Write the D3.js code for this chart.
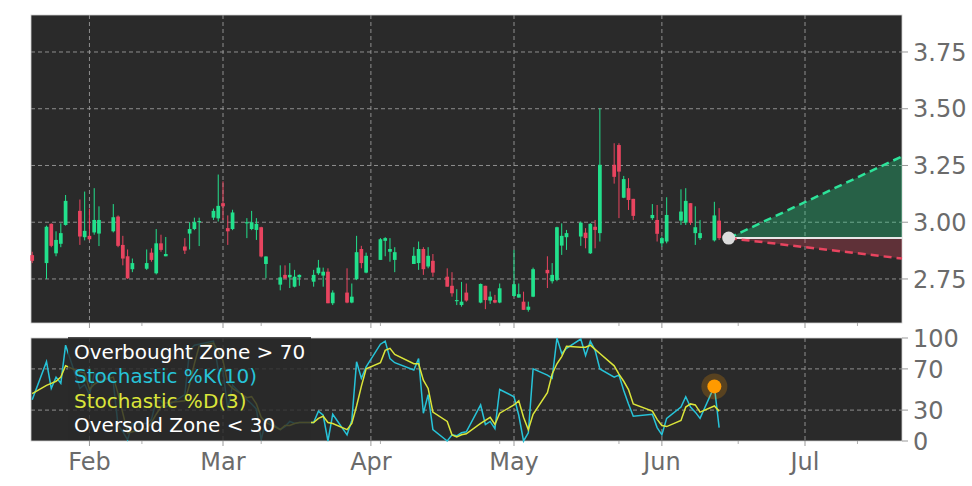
<!DOCTYPE html>
<html>
<head>
<meta charset="utf-8">
<script src="https://cdn.jsdelivr.net/npm/d3@7"></script>
<style>
  body { margin: 0; background: #fff; }
  svg { display: block; font-family: "DejaVu Sans", sans-serif; }
</style>
</head>
<body>
<div id="chart"></div>
<script>
// daily bars, 2023
const dates = [
  "2023-01-20","2023-01-23","2023-01-24","2023-01-25","2023-01-26","2023-01-27",
  "2023-01-30","2023-01-31","2023-02-01","2023-02-02","2023-02-03",
  "2023-02-06","2023-02-07","2023-02-08","2023-02-09","2023-02-10",
  "2023-02-13","2023-02-14","2023-02-15","2023-02-16","2023-02-17",
  "2023-02-21","2023-02-22","2023-02-23","2023-02-24",
  "2023-02-27","2023-02-28","2023-03-01","2023-03-02","2023-03-03",
  "2023-03-06","2023-03-07","2023-03-08","2023-03-09","2023-03-10",
  "2023-03-13","2023-03-14","2023-03-15","2023-03-16","2023-03-17",
  "2023-03-20","2023-03-21","2023-03-22","2023-03-23","2023-03-24",
  "2023-03-27","2023-03-28","2023-03-29","2023-03-30","2023-03-31",
  "2023-04-03","2023-04-04","2023-04-05","2023-04-06",
  "2023-04-10","2023-04-11","2023-04-12","2023-04-13","2023-04-14",
  "2023-04-17","2023-04-18","2023-04-19","2023-04-20","2023-04-21",
  "2023-04-24","2023-04-25","2023-04-26","2023-04-27","2023-04-28",
  "2023-05-01","2023-05-02","2023-05-03","2023-05-04","2023-05-05",
  "2023-05-08","2023-05-09","2023-05-10","2023-05-11","2023-05-12",
  "2023-05-15","2023-05-16","2023-05-17","2023-05-18","2023-05-19",
  "2023-05-22","2023-05-23","2023-05-24","2023-05-25","2023-05-26",
  "2023-05-30","2023-05-31","2023-06-01","2023-06-02",
  "2023-06-05","2023-06-06","2023-06-07","2023-06-08","2023-06-09",
  "2023-06-12","2023-06-13"
];
const open = [
  2.855,2.82,2.993,2.863,2.905,2.988, 3.05,2.934,2.94,2.955,2.95,
  2.96,3.025,2.90,2.85,2.793, 2.795,2.866,2.775,2.907,2.85, 2.893,2.95,2.97,3.00,
  3.02,3.017,3.084,2.974,2.97, 2.995,2.97,2.966,2.978,2.816, 2.725,2.768,2.757,2.716,2.757,
  2.738,2.775,2.765,2.782,2.643, 2.69,2.646,2.749,2.882,2.778, 2.834,2.918,2.87,2.834,
  2.816,2.82,2.882,2.805,2.83, 2.76,2.72,2.652,2.635,2.69, 2.646,2.72,2.655,2.657,2.646,
  2.675,2.668,2.65,2.614,2.672, 2.79,2.74,2.746,2.897,2.934, 2.937,2.954,2.863,2.98,2.952,
  3.253,3.34,3.108,3.15,3.103, 3.018,3.01,2.907,2.915, 3.007,2.998,3.084,2.952,2.93, 2.92,3.007
];
const high = [
  2.87,2.985,2.995,2.96,2.995,3.12, 3.10,3.135,3.06,3.15,3.07,
  3.08,3.03,2.94,2.88,2.84, 2.88,2.885,2.97,2.945,2.935, 2.93,3.00,3.02,3.02,
  3.06,3.21,3.18,3.03,3.055, 3.018,3.05,3.018,2.98,2.85, 2.81,2.81,2.82,2.79,2.77,
  2.79,2.834,2.80,2.797,2.70, 2.797,2.73,2.94,2.896,2.866, 2.93,2.934,2.93,2.89,
  2.89,2.915,2.89,2.89,2.86, 2.797,2.78,2.705,2.737,2.73, 2.73,2.72,2.695,2.68,2.73,
  2.878,2.73,2.694,2.65,2.80, 2.85,2.82,2.98,2.995,2.966, 3.003,2.974,2.996,3.01,3.502,
  3.348,3.348,3.204,3.194,3.103, 3.08,3.076,2.937,3.11, 3.145,3.15,3.084,3.07,3.01, 3.09,3.062
];
const low = [
  2.82,2.75,2.89,2.85,2.89,2.985, 2.90,2.92,2.92,2.945,2.895,
  2.955,2.89,2.81,2.75,2.78, 2.79,2.826,2.77,2.87,2.85, 2.86,2.88,2.965,2.895,
  3.01,3.003,3.01,2.90,2.965, 2.93,2.965,2.922,2.845,2.753, 2.70,2.75,2.71,2.713,2.72,
  2.716,2.768,2.716,2.643,2.635, 2.643,2.643,2.745,2.797,2.775, 2.834,2.85,2.826,2.78,
  2.816,2.79,2.768,2.797,2.76, 2.716,2.672,2.635,2.628,2.65, 2.643,2.617,2.64,2.643,2.643,
  2.672,2.668,2.614,2.606,2.67, 2.71,2.73,2.74,2.856,2.878, 2.896,2.885,2.86,2.885,2.915,
  3.17,3.018,3.106,3.054,3.01, 3.01,2.915,2.893,2.907, 2.988,2.988,2.988,2.90,2.922, 2.915,2.922
];
const close = [
  2.83,2.98,2.896,2.922,2.952,3.094, 2.937,2.962,2.925,3.01,3.01,
  3.022,2.896,2.84,2.753,2.82, 2.82,2.834,2.907,2.878,2.86, 2.875,2.97,3.00,3.005,
  3.05,3.072,3.07,2.96,3.043, 3.0,3.00,2.993,2.849,2.849, 2.757,2.753,2.768,2.76,2.768,
  2.768,2.80,2.782,2.643,2.69, 2.646,2.672,2.868,2.82,2.852, 2.925,2.93,2.882,2.868,
  2.852,2.882,2.793,2.852,2.778, 2.716,2.687,2.657,2.65,2.655, 2.728,2.657,2.672,2.646,2.709,
  2.727,2.683,2.614,2.628,2.793, 2.775,2.768,2.978,2.94,2.952, 2.998,2.93,2.993,2.966,3.253,
  3.20,3.223,3.19,3.098,3.028, 3.032,2.949,2.93,3.032, 3.047,3.094,2.998,2.978,2.952, 3.03,2.93
];
const stochK = [
  40,77,51,62,56,93, 51,55,45,65,65, 57,15,9,1,17, 17,21,39,39,33, 45,88,93,94,
  97,69,68,31,54, 40,36,31,1,21, 11,14,19,17,18, 18,29,25,0,26, 6,20,77,61,72,
  94,97,80,76, 69,80,27,45,11, 0,6,5,8,9, 35,16,19,12,50, 43,25,0,8,70,
  64,61,100,85,90, 99,83,97,88,70, 62,64,49,36,24, 26,13,6,22, 33,43,33,28,22, 53,13
];
const stochD = [
  46,54,56,58,62,73, 67,66,50,55,58, 62,46,27,8,9, 12,18,26,33,37, 39,55,75,92,
  95,87,78,56,51, 42,43,36,23,18, 11,15,15,17,18, 18,22,24,18,17, 11,17,34,53,70,
  76,88,90,84, 75,75,59,51,28, 19,6,4,6,7, 17,20,23,16,27, 35,39,23,11,26,
  47,65,75,82,92, 91,91,93,89,85, 73,65,58,50,36, 29,21,15,14, 20,33,36,35,28, 34,29
];
// projection cone
const projStart = "2023-06-15";
const projBase = 2.93;
const projUpper = 3.29;
const projLower = 2.84;
// axes
const priceTicks = [2.75, 3.00, 3.25, 3.50, 3.75];
const stochTicks = [0, 30, 70, 100];
const monthTicks = ["2023-02-01","2023-03-01","2023-04-01","2023-05-01","2023-06-01","2023-07-01"];
const minorTicks = ["2023-02-12","2023-03-09","2023-04-03","2023-04-28","2023-05-23","2023-06-17","2023-07-12"];
const legendItems = ["Overbought Zone > 70", "Stochastic %K(10)", "Stochastic %D(3)", "Oversold Zone < 30"];

const parse = d3.timeParse("%Y-%m-%d");
const bars = dates.map((d, i) => ({
  date: parse(d), o: open[i], h: high[i], l: low[i], c: close[i], k: stochK[i], d: stochD[i]
}));

const W = 972, H = 486;
const left = 31, right = 902;
const main = { top: 15, bottom: 323 };
const osc = { top: 338, bottom: 441 };

const svg = d3.select("#chart").append("svg")
  .attr("width", W).attr("height", H);

const x = d3.scaleTime()
  .domain([new Date(2023, 0, 19, 18), new Date(2023, 6, 21, 8)])
  .range([left, right]);
const y = d3.scaleLinear().domain([2.556, 3.913]).range([main.bottom, main.top]);
const yS = d3.scaleLinear().domain([0, 100]).range([osc.bottom, osc.top]);

const green = "#22e08c", red = "#e8445f";
const gridColor = "#9a9a9a";
const tickColor = "#6b6b6b";

// panel backgrounds
[main, osc].forEach(p => {
  svg.append("rect")
    .attr("x", left).attr("y", p.top)
    .attr("width", right - left).attr("height", p.bottom - p.top)
    .attr("fill", "#2a2a2a")
    .attr("stroke", "#d0d0d0").attr("stroke-width", 0.8);
});

// grids
function vGrid(p) {
  svg.append("g").selectAll("line")
    .data(monthTicks.map(parse)).enter().append("line")
    .attr("x1", d => x(d)).attr("x2", d => x(d))
    .attr("y1", p.top).attr("y2", p.bottom)
    .attr("stroke", gridColor).attr("stroke-width", 0.9)
    .attr("stroke-dasharray", "4,3");
}
vGrid(main);
vGrid(osc);

svg.append("g").selectAll("line")
  .data(priceTicks).enter().append("line")
  .attr("x1", left).attr("x2", right)
  .attr("y1", d => y(d)).attr("y2", d => y(d))
  .attr("stroke", gridColor).attr("stroke-width", 0.9)
  .attr("stroke-dasharray", "4,3");

svg.append("g").selectAll("line")
  .data([30, 70]).enter().append("line")
  .attr("x1", left).attr("x2", right)
  .attr("y1", d => yS(d)).attr("y2", d => yS(d))
  .attr("stroke", gridColor).attr("stroke-width", 0.9)
  .attr("stroke-dasharray", "4,3");

// projection cone
const pStart = parse(projStart);
const pEnd = x.domain()[1];
const mainG = svg.append("g");

mainG.append("path")
  .attr("d", d3.line()([[x(pStart), y(projBase)], [x(pEnd), y(projUpper)], [x(pEnd), y(projBase)]]) + "Z")
  .attr("fill", green).attr("fill-opacity", 0.3);
mainG.append("path")
  .attr("d", d3.line()([[x(pStart), y(projBase)], [x(pEnd), y(projLower)], [x(pEnd), y(projBase)]]) + "Z")
  .attr("fill", red).attr("fill-opacity", 0.28);

mainG.append("line")
  .attr("x1", x(pStart)).attr("x2", x(pEnd))
  .attr("y1", y(projBase)).attr("y2", y(projBase))
  .attr("stroke", "#e8e8e8").attr("stroke-width", 2);
mainG.append("line")
  .attr("x1", x(pStart)).attr("x2", x(pEnd))
  .attr("y1", y(projBase)).attr("y2", y(projUpper))
  .attr("stroke", "#2de39a").attr("stroke-width", 2.5)
  .attr("stroke-dasharray", "8,5");
mainG.append("line")
  .attr("x1", x(pStart)).attr("x2", x(pEnd))
  .attr("y1", y(projBase)).attr("y2", y(projLower))
  .attr("stroke", red).attr("stroke-width", 2.5)
  .attr("stroke-dasharray", "8,5");

// candles
const dayW = x(new Date(2023, 1, 2)) - x(new Date(2023, 1, 1));
const bodyW = dayW * 0.78;
const candles = mainG.selectAll(".candle")
  .data(bars).enter().append("g")
  .attr("class", "candle");

candles.append("line")
  .attr("x1", d => x(d.date)).attr("x2", d => x(d.date))
  .attr("y1", d => y(d.h)).attr("y2", d => y(d.l))
  .attr("stroke", d => d.c >= d.o ? green : red)
  .attr("stroke-width", 1);

candles.append("rect")
  .attr("x", d => x(d.date) - bodyW / 2)
  .attr("y", d => y(Math.max(d.o, d.c)))
  .attr("width", bodyW)
  .attr("height", d => Math.max(1, Math.abs(y(d.o) - y(d.c))))
  .attr("fill", d => d.c >= d.o ? green : red);

mainG.append("circle")
  .attr("cx", x(pStart)).attr("cy", y(projBase))
  .attr("r", 6.5).attr("fill", "#dcdcdc");

// stochastic lines
const kLine = d3.line().x(d => x(d.date)).y(d => yS(d.k));
const dLine = d3.line().x(d => x(d.date)).y(d => yS(d.d));

svg.append("path").datum(bars)
  .attr("d", kLine).attr("fill", "none")
  .attr("stroke", "#27c3d8").attr("stroke-width", 1.5);
svg.append("path").datum(bars)
  .attr("d", dLine).attr("fill", "none")
  .attr("stroke", "#dbe53a").attr("stroke-width", 1.5);

// highlight last %K peak
const peak = bars[bars.length - 2];
svg.append("circle")
  .attr("cx", x(peak.date)).attr("cy", yS(peak.k))
  .attr("r", 13).attr("fill", "#ff9a00").attr("fill-opacity", 0.22);
svg.append("circle")
  .attr("cx", x(peak.date)).attr("cy", yS(peak.k))
  .attr("r", 7).attr("fill", "#ff9a00");

// legend
svg.append("rect")
  .attr("x", 68).attr("y", osc.top - 1)
  .attr("width", 243).attr("height", osc.bottom - osc.top)
  .attr("fill", "#2a2a2a").attr("fill-opacity", 0.82);

const legendColors = ["#ffffff", "#27c3d8", "#dbe53a", "#ffffff"];
svg.append("g").selectAll("text")
  .data(legendItems).enter().append("text")
  .attr("x", 74)
  .attr("y", (d, i) => 359 + i * 24.3)
  .attr("font-size", 20)
  .attr("fill", (d, i) => legendColors[i])
  .text(d => d);

// x ticks
function xTicks(yPos) {
  const g = svg.append("g");
  g.selectAll(".maj").data(monthTicks.map(parse)).enter().append("line")
    .attr("x1", d => x(d)).attr("x2", d => x(d))
    .attr("y1", yPos).attr("y2", yPos + 5)
    .attr("stroke", "#999").attr("stroke-width", 1);
  g.selectAll(".min").data(minorTicks.map(parse)).enter().append("line")
    .attr("x1", d => x(d)).attr("x2", d => x(d))
    .attr("y1", yPos).attr("y2", yPos + 3)
    .attr("stroke", "#999").attr("stroke-width", 0.8);
}
xTicks(main.bottom);
xTicks(osc.bottom);

svg.append("g").selectAll("text")
  .data(monthTicks.map(parse)).enter().append("text")
  .attr("x", d => x(d))
  .attr("y", 470)
  .attr("text-anchor", "middle")
  .attr("font-size", 24)
  .attr("fill", tickColor)
  .text(d3.timeFormat("%b"));

// y ticks (right side)
function yTicks(scale, values, fmt) {
  const g = svg.append("g");
  g.selectAll("line").data(values).enter().append("line")
    .attr("x1", right).attr("x2", right + 6)
    .attr("y1", d => scale(d)).attr("y2", d => scale(d))
    .attr("stroke", "#999").attr("stroke-width", 1);
  g.selectAll("text").data(values).enter().append("text")
    .attr("x", right + 11)
    .attr("y", d => scale(d))
    .attr("dy", "0.36em")
    .attr("font-size", 24)
    .attr("fill", tickColor)
    .text(fmt);
}
yTicks(y, priceTicks, d3.format(".2f"));
yTicks(yS, stochTicks, d => d);
</script>
</body>
</html>
